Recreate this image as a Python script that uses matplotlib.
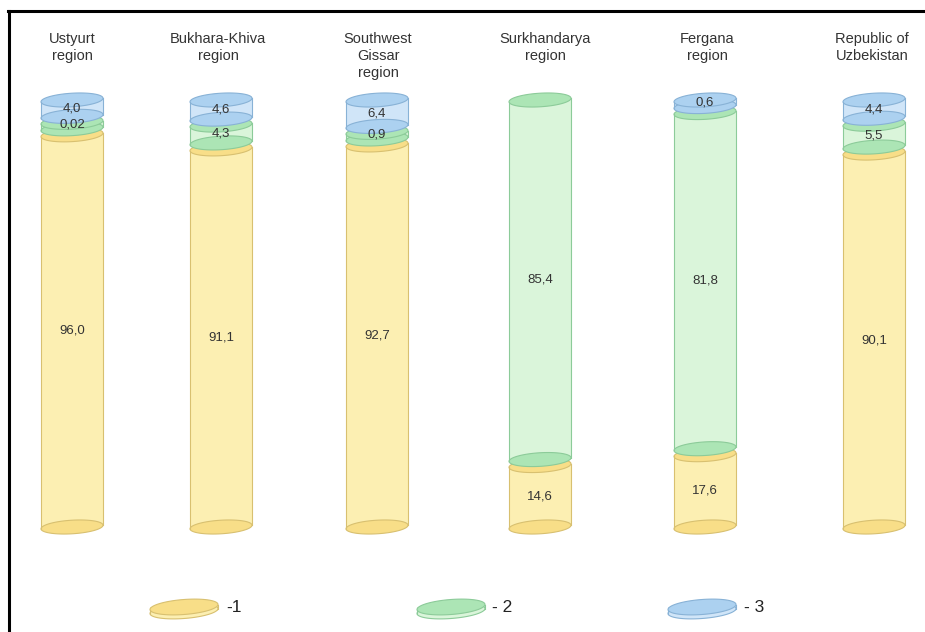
import numpy as np
import matplotlib
matplotlib.use('Agg')
from matplotlib import pyplot as plt
from matplotlib.patches import Polygon, Rectangle
from matplotlib.lines import Line2D

plt.rcParams['font.family'] = ['Liberation Sans', 'DejaVu Sans']

regions = ['Ustyurt\nregion', 'Bukhara-Khiva\nregion', 'Southwest\nGissar\nregion',
           'Surkhandarya\nregion', 'Fergana\nregion', 'Republic of\nUzbekistan']
# shares, %: 1 - yellow, 2 - green, 3 - blue (0 = absent)
share1 = [96.0, 91.1, 92.7, 14.6, 17.6, 90.1]
share2 = [0.02, 4.3, 0.9, 85.4, 81.8, 5.5]
share3 = [4.0, 4.6, 6.4, 0.0, 0.6, 4.4]
legend_labels = ['-1', '- 2', '- 3']

# layout (pixels on a 925x632 canvas)
W, H = 925, 632
col_x = [72, 221, 377, 540, 705, 874]
title_x = [72, 218, 378, 545, 707, 872]
half_w = 31
y_base, y_top = 527, 100

body_c = ['#fcefb2', '#daf5da', '#d0e5f8']
cap_c = ['#f8de88', '#ace5b5', '#acd1f0']
edge_c = ['#d8c070', '#8ccb99', '#88b2d6']


def ellipse(xc, yc, a, b, tilt, n=80):
    t = np.linspace(0, 2 * np.pi, n)
    return np.column_stack([xc + a * np.cos(t), yc + b * np.sin(t) + tilt * np.cos(t)])


def cylinder(ax, xc, y0, y1, a, b, tilt, body, cap, edge, bottom_fill=None):
    ax.add_patch(Rectangle((xc - a, y0), 2 * a, y1 - y0, facecolor=body,
                           edgecolor='none', clip_on=False))
    ax.plot([xc - a, xc - a], [y0 - tilt, y1 - tilt], color=edge, lw=0.8, clip_on=False)
    ax.plot([xc + a, xc + a], [y0 + tilt, y1 + tilt], color=edge, lw=0.8, clip_on=False)
    ax.add_patch(Polygon(ellipse(xc, y0, a, b, tilt), closed=True,
                         facecolor=bottom_fill or cap, edgecolor=edge, lw=0.8, clip_on=False))
    ax.add_patch(Polygon(ellipse(xc, y1, a, b, tilt), closed=True,
                         facecolor=cap, edgecolor=edge, lw=0.8, clip_on=False))


def fmt(v):
    s = '%.2f' % v if v < 0.1 else '%.1f' % v
    return s.replace('.', ',')


fig = plt.figure(figsize=(W / 100, H / 100), dpi=100)

# columns: y in percent, 0 at the base ellipse, 100 at the top ellipse
ax = fig.add_axes([0, (H - y_base) / H, 1, (y_base - y_top) / H])
ax.set_xlim(0, W)
ax.set_ylim(0, 100)
ax.axis('off')

ppu = (y_base - y_top) / 100.0   # pixels per percent
b = 6.8 / ppu
tilt = 1.8 / ppu
gap = 1.4
min_h = 1.6

for i in range(len(regions)):
    vals = [share1[i], share2[i], share3[i]]
    segs = [(k, v) for k, v in enumerate(vals) if v > 0]
    hs = [max(v, min_h) for k, v in segs]
    scale = (100 - gap * (len(segs) - 1)) / sum(hs)
    y = 0.0
    for (k, v), h in zip(segs, hs):
        y1 = y + h * scale
        cylinder(ax, col_x[i], y, y1, half_w, b, tilt, body_c[k], cap_c[k], edge_c[k])
        ym = (y + y1) / 2
        if h * scale < 3:
            ym = y1 - 0.5
        ax.text(col_x[i], ym, fmt(v), ha='center', va='center', fontsize=9.5,
                color='#333333', zorder=5)
        y = y1 + gap

for x, name in zip(title_x, regions):
    fig.text(x / W, 1 - 32 / H, name, ha='center', va='top', fontsize=10.5,
             color='#333333', linespacing=1.25)

# legend discs
lax = fig.add_axes([0, 0, 1, 60 / H])
lax.set_xlim(0, W)
lax.set_ylim(0, 60)
lax.axis('off')
leg_x = [184, 451, 702]
lab_x = [226, 492, 744]
for k in range(3):
    cylinder(lax, leg_x[k], 21, 25, 34, 7.5, 2.5, body_c[k], cap_c[k], edge_c[k],
             bottom_fill=body_c[k])
    lax.text(lab_x[k], 24, legend_labels[k], ha='left', va='center', fontsize=12.5,
             color='#222222')

# frame
fig.add_artist(Line2D([8 / W, 1], [1 - 11 / H, 1 - 11 / H], color='black', lw=2.2))
fig.add_artist(Line2D([9 / W, 9 / W], [0, 1 - 11 / H], color='black', lw=2.2))

fig.savefig('out.png', dpi=100)
